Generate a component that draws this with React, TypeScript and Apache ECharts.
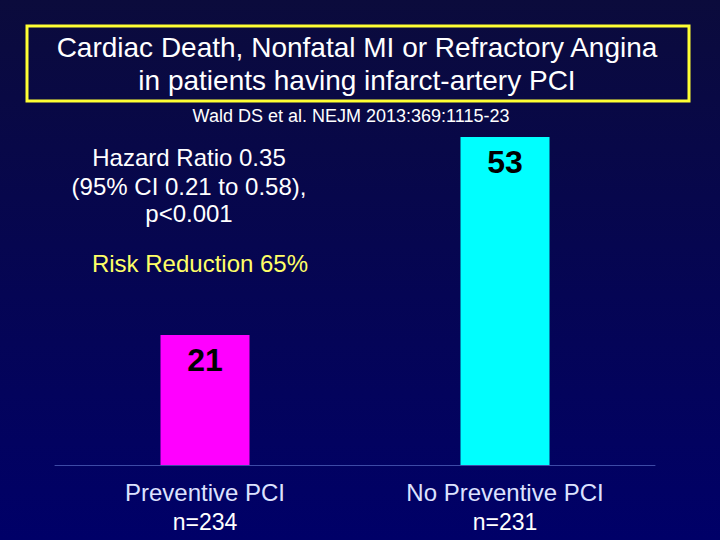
import React, { useEffect, useRef } from "react";
import * as echarts from "echarts";

const categories = ["Preventive PCI", "No Preventive PCI"];
const sampleSizes = ["n=234", "n=231"];
const eventValues = [21, 53];
const barColors = ["#ff00ff", "#00ffff"];
const titleLines = ["Cardiac Death, Nonfatal MI or Refractory Angina", "in patients having infarct-artery PCI"];
const citation = "Wald DS et al. NEJM 2013:369:1115-23";
const statsLines = ["Hazard Ratio 0.35", "(95% CI 0.21 to 0.58),", "p<0.001"];
const riskText = "Risk Reduction 65%";

const FONT = "'Liberation Sans', Arial, sans-serif";

export default function App() {
  const ref = useRef<HTMLDivElement>(null);
  useEffect(() => {
    if (!ref.current) return;
    const chart = echarts.init(ref.current, null, { renderer: "svg" });
    chart.setOption({
      animation: false,
      backgroundColor: {
        type: "linear", x: 0, y: 0, x2: 0, y2: 1,
        colorStops: [
          { offset: 0, color: "#0b0b3c" },
          { offset: 1, color: "#000068" },
        ],
      },
      grid: { left: 55, right: 65, top: 93.6, bottom: 75 },
      xAxis: {
        type: "category",
        data: categories,
        axisLine: { show: true, lineStyle: { color: "#3d4aa6", width: 1 } },
        axisTick: { show: false },
        axisLabel: {
          margin: 13,
          interval: 0,
          formatter: (v: string, i: number) => `{a|${v}}\n{b|${sampleSizes[i]}}`,
          rich: {
            a: { color: "#dde2ff", fontSize: 24, fontFamily: FONT, lineHeight: 29 },
            b: { color: "#ffffff", fontSize: 23, fontFamily: FONT, lineHeight: 29 },
          },
        },
      },
      yAxis: { type: "value", min: 0, max: 60, show: false, splitLine: { show: false } },
      series: [
        {
          type: "bar",
          barWidth: 89,
          data: eventValues.map((v, i) => ({ value: v, itemStyle: { color: barColors[i] } })),
          label: {
            show: true,
            position: "insideTop",
            distance: 9,
            color: "#000000",
            fontSize: 32,
            fontWeight: "bold",
            fontFamily: FONT,
          },
        },
      ],
      graphic: [
        {
          type: "rect",
          shape: { x: 27, y: 26, width: 662, height: 75 },
          style: { fill: "transparent", stroke: "#ffff33", lineWidth: 3 },
        },
        {
          type: "text",
          x: 357, y: 47,
          style: { text: titleLines[0], fill: "#ffffff", font: `28px ${FONT}`, textAlign: "center", textVerticalAlign: "middle" },
        },
        {
          type: "text",
          x: 357, y: 80,
          style: { text: titleLines[1], fill: "#ffffff", font: `28px ${FONT}`, textAlign: "center", textVerticalAlign: "middle" },
        },
        {
          type: "text",
          x: 351, y: 116,
          style: { text: citation, fill: "#ffffff", font: `18px ${FONT}`, textAlign: "center", textVerticalAlign: "middle" },
        },
        ...statsLines.map((t, i) => ({
          type: "text",
          x: 189, y: [157, 186, 213][i],
          style: { text: t, fill: "#ffffff", font: `24px ${FONT}`, textAlign: "center", textVerticalAlign: "middle" },
        })),
        {
          type: "text",
          x: 200, y: 263,
          style: { text: riskText, fill: "#ffff66", font: `24px ${FONT}`, textAlign: "center", textVerticalAlign: "middle" },
        },
      ],
    });
    return () => chart.dispose();
  }, []);
  return <div ref={ref} style={{ width: 720, height: 540, position: "absolute", left: 0, top: 0 }} />;
}
